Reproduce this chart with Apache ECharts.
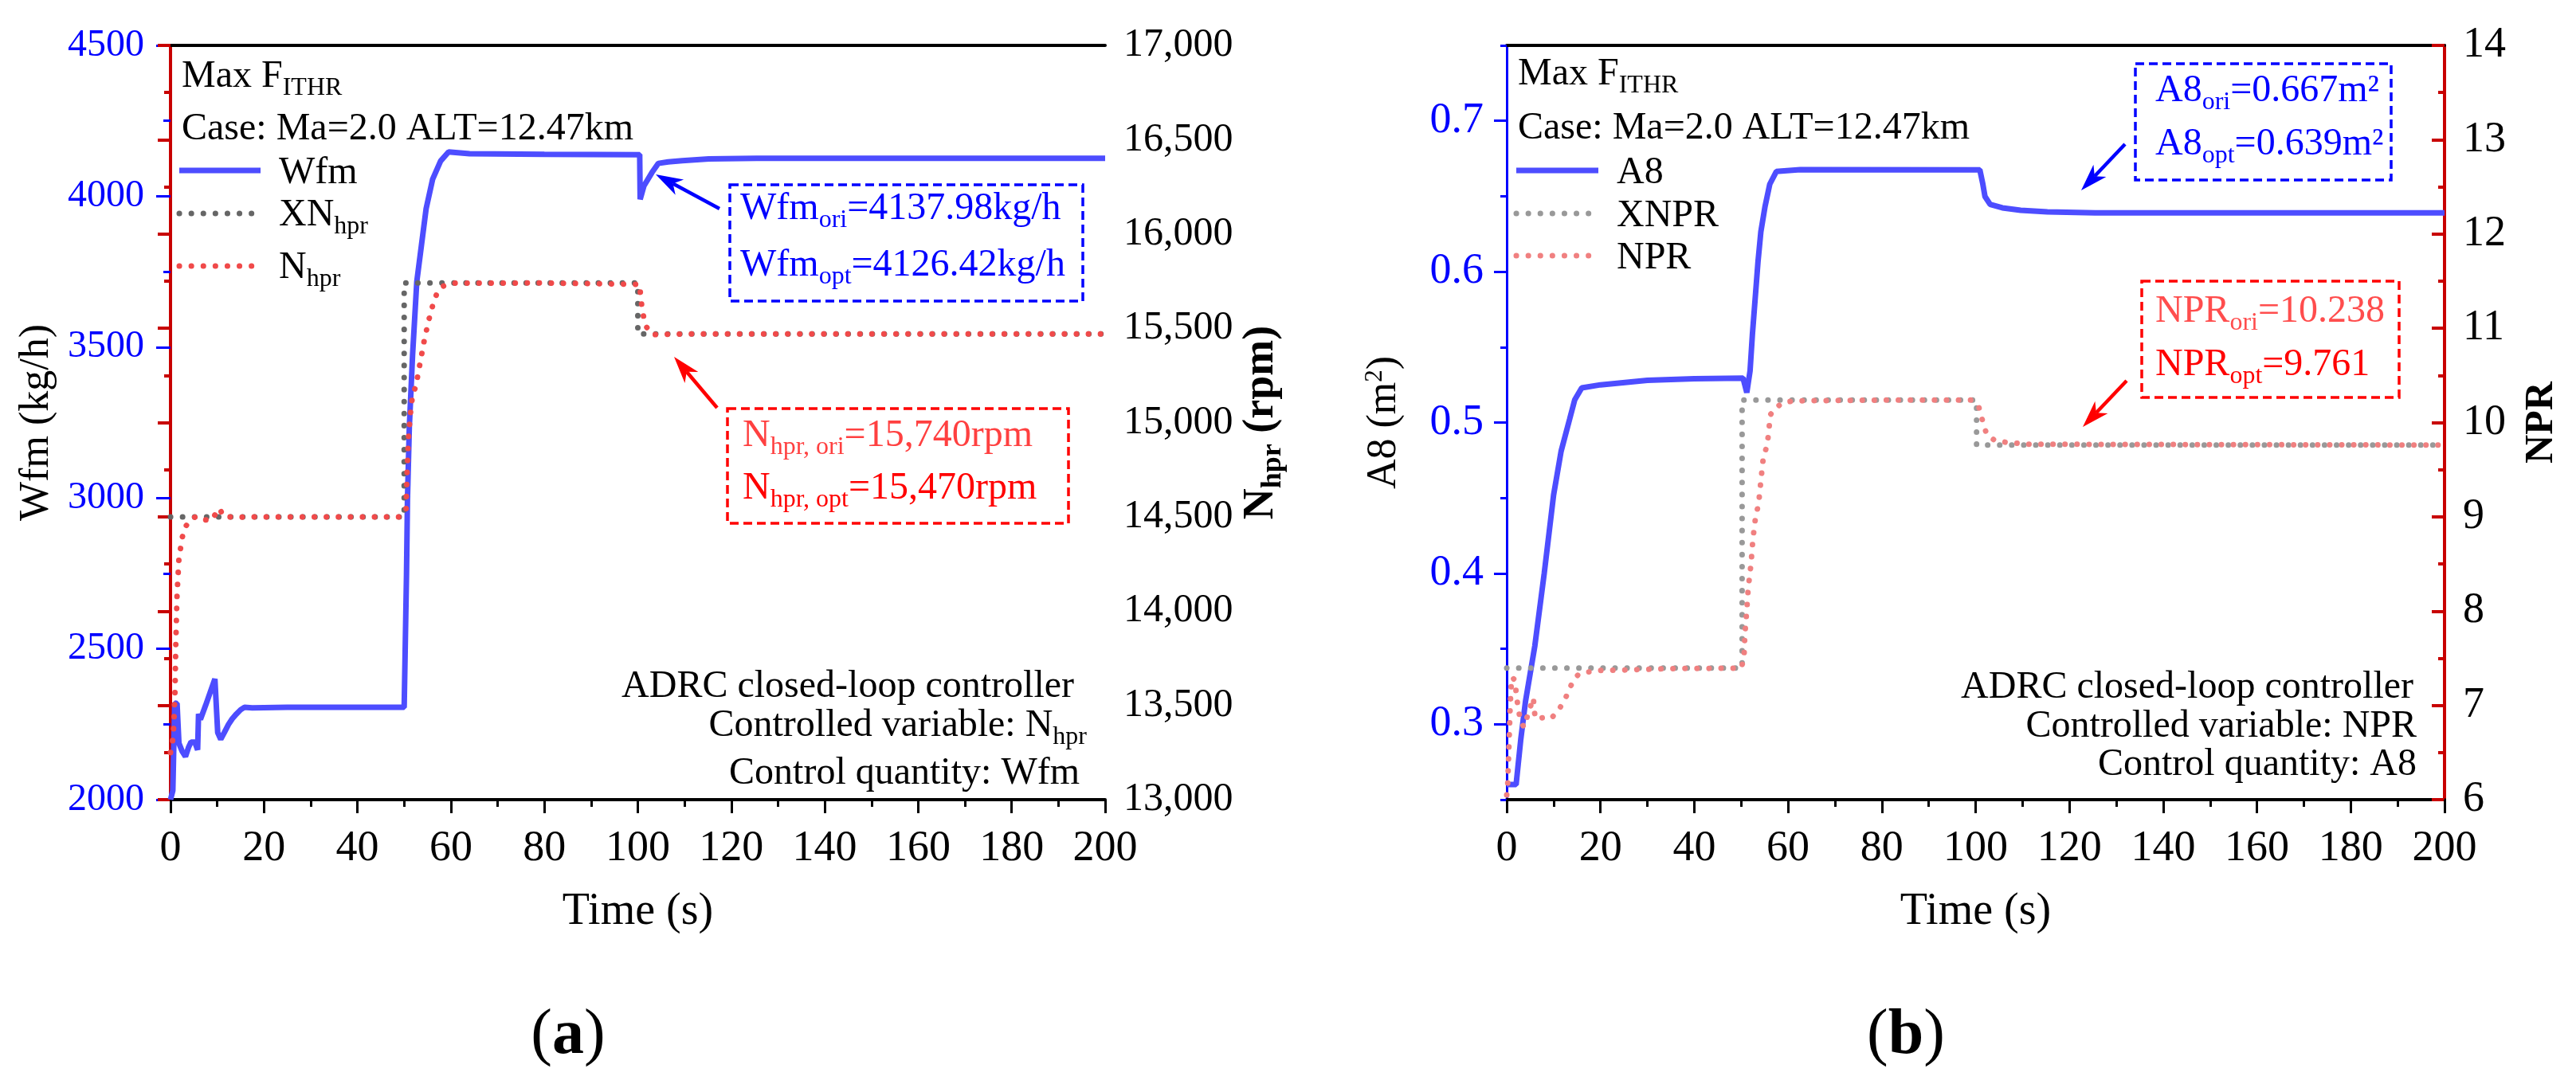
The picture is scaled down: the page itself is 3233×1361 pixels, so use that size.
<!DOCTYPE html>
<html>
<head>
<meta charset="utf-8">
<script src="https://cdn.jsdelivr.net/npm/echarts@6/dist/echarts.min.js"></script>
<style>
  html, body { margin: 0; padding: 0; background: #fff; }
  #chart { width: 3233px; height: 1361px; }
</style>
</head>
<body>
<div id="chart"></div>
<script>
// ---- data ----
// (a) fuel flow Wfm [kg/h] and high-pressure rotor speed [rpm]
const timeWfm = [0, 0.5, 0.9, 1.4, 1.8, 2.5, 3.2, 3.9, 4.4, 5.2, 5.8, 6.0, 6.4, 7.5, 8.5, 9.5, 10.1, 10.75, 11.5, 12.4, 13.2, 14.1, 15.0, 15.8, 17.5, 25, 40, 50.0, 50.1, 50.2, 50.5, 50.7, 51.1, 51.8, 52.7, 53.7, 54.7, 56.1, 57.8, 59.5, 64, 80, 100.4, 100.5, 101.3, 103.0, 104.4, 106.5, 109.5, 115.2, 125.4, 150, 200];
const wfm = [2000, 2030, 2320, 2319, 2187, 2160, 2143, 2175, 2191, 2191, 2165, 2284, 2266, 2312, 2356, 2400, 2222, 2200, 2222, 2249, 2268, 2284, 2298, 2306, 2304, 2306, 2306, 2306, 2310, 2480, 2747, 2990, 3233, 3474, 3717, 3838, 3959, 4057, 4117, 4147, 4141, 4139, 4138, 3990, 4034, 4078, 4109, 4114, 4118, 4124, 4126, 4126, 4126];

const timeXN = [0, 50, 50, 100, 100, 200];
const xnHpr = [14500, 14500, 15740, 15740, 15470, 15470];

const timeNhpr = [0, 0.4, 0.7, 0.97, 1.14, 1.4, 1.8, 2.5, 3.1, 4.2, 5.5, 6.9, 8.8, 9.8, 10.5, 11.3, 13.4, 20, 49, 50.4, 50.6, 50.9, 51.3, 51.8, 52.5, 53.4, 54.3, 55.2, 56.2, 56.9, 58.1, 60.2, 80, 100.4, 100.6, 100.9, 101.3, 101.9, 103.1, 110, 200];
const nHpr = [13250, 13300, 13390, 13580, 13833, 14087, 14277, 14390, 14443, 14485, 14502, 14485, 14481, 14523, 14545, 14502, 14498, 14500, 14500, 14533, 14718, 14912, 15039, 15145, 15193, 15315, 15436, 15537, 15630, 15678, 15721, 15739, 15740, 15733, 15671, 15607, 15553, 15505, 15466, 15470, 15470];

// (b) nozzle area A8 [m2] and nozzle pressure ratio
const timeA8 = [0, 2.0, 3.0, 4.0, 6.0, 8.0, 10.0, 11.6, 13.4, 14.5, 16, 20, 30, 40, 50.4, 51.2, 51.9, 52.4, 53.0, 53.6, 54.2, 55.1, 56.1, 57.5, 62.6, 100.9, 101.5, 102.0, 103.1, 105.7, 109.6, 115.3, 125.5, 200];
const a8 = [0.26, 0.26, 0.29, 0.315, 0.352, 0.40, 0.452, 0.481, 0.502, 0.515, 0.523, 0.525, 0.528, 0.529, 0.5295, 0.5198, 0.5343, 0.5586, 0.5828, 0.607, 0.6265, 0.6434, 0.658, 0.6664, 0.6676, 0.6675, 0.6587, 0.6498, 0.6446, 0.6423, 0.6407, 0.6396, 0.639, 0.639];

const timeXNPR = [0, 50.2, 50.2, 100.2, 100.2, 200];
const xnpr = [7.395, 7.395, 10.238, 10.238, 9.761, 9.761];

const timeNPR = [0, 0.2, 0.5, 0.75, 1.0, 1.2, 1.8, 2.0, 2.3, 2.7, 3.6, 4.25, 4.8, 5.5, 5.7, 5.8, 6.1, 7.8, 9.5, 10.3, 11.3, 12.5, 13.2, 14.2, 15.3, 17.5, 19.7, 24.8, 35, 50.0, 50.6, 50.8, 51.2, 51.5, 52.1, 52.5, 53.1, 53.7, 54.2, 54.7, 55.4, 55.8, 56.2, 57.2, 58.9, 61.2, 80, 99.0, 100.6, 101.2, 101.8, 102.4, 104.1, 106.5, 111.3, 200];
const npr = [6.05, 6.15, 6.6, 7.0, 7.25, 7.30, 7.26, 7.14, 7.02, 6.90, 6.77, 6.86, 6.95, 7.05, 7.08, 6.98, 6.86, 6.87, 6.86, 6.91, 6.97, 7.07, 7.16, 7.26, 7.33, 7.355, 7.37, 7.375, 7.39, 7.395, 7.50, 7.76, 8.01, 8.24, 8.50, 8.76, 9.01, 9.13, 9.38, 9.62, 9.74, 9.86, 10.08, 10.15, 10.21, 10.23, 10.238, 10.238, 10.18, 10.07, 9.96, 9.87, 9.81, 9.79, 9.77, 9.761];

// tick values for the A8 axis (major labelled, minor unlabelled)
const a8Ticks = [0.3, 0.4, 0.5, 0.6, 0.7];
const a8MinorTicks = [0.25, 0.35, 0.45, 0.55, 0.65, 0.75];

// ---- styling ----
const FONT = '"Liberation Serif", "DejaVu Serif", serif';
const BLUE = '#0000ff';
const LINE_BLUE = '#4d4dff';
const AXIS_RED = '#c80000';
const DOTS = [0.1, 15];

const zip = (xs, ys) => xs.map((x, i) => [x, ys[i]]);

function richStyles(color, size, subSize) {
  return {
    m: { fontSize: size, fontFamily: FONT, fill: color, color: color, lineHeight: 56 },
    s: { fontSize: subSize, fontFamily: FONT, fill: color, color: color, lineHeight: 56, padding: [30, 0, 0, 0] }
  };
}

function label(x, y, text, color, align) {
  return {
    type: 'text',
    x: x,
    y: y,
    z: 100,
    style: {
      text: text,
      align: align || 'left',
      verticalAlign: 'top',
      rich: richStyles(color || '#000', 48, 32)
    }
  };
}

function dashBox(x1, y1, x2, y2, color) {
  return {
    type: 'rect',
    z: 100,
    shape: { x: x1, y: y1, width: x2 - x1, height: y2 - y1 },
    style: { fill: 'none', stroke: color, lineWidth: 3.5, lineDash: [11, 6] }
  };
}

// tail (x1,y1) -> tip (x2,y2)
function arrow(x1, y1, x2, y2, color) {
  const dx = x2 - x1, dy = y2 - y1;
  const len = Math.hypot(dx, dy);
  const ux = dx / len, uy = dy / len;
  const hl = 34, hw = 11;
  const bx = x2 - ux * hl, by = y2 - uy * hl;
  const nx = x2 - ux * hl * 0.72, ny = y2 - uy * hl * 0.72;
  return [
    {
      type: 'line', z: 100,
      shape: { x1: x1, y1: y1, x2: nx, y2: ny },
      style: { stroke: color, lineWidth: 4.5 }
    },
    {
      type: 'polygon', z: 100,
      shape: { points: [[x2, y2], [bx - uy * hw, by + ux * hw], [nx, ny], [bx + uy * hw, by - ux * hw]] },
      style: { fill: color }
    }
  ];
}

function legendLine(x1, x2, y, color, dotted) {
  return {
    type: 'line', z: 100,
    shape: { x1: x1, y1: y, x2: x2, y2: y },
    style: dotted
      ? { stroke: color, lineWidth: 7, lineDash: DOTS, lineCap: 'round' }
      : { stroke: color, lineWidth: 7 }
  };
}

const xBase = (grid) => ({
  gridIndex: grid,
  type: 'value',
  min: 0,
  max: 200,
  interval: 20,
  axisLine: { show: true, onZero: false, lineStyle: { color: '#000', width: 4 } },
  axisTick: { show: true, length: 17, lineStyle: { color: '#000', width: 3 } },
  minorTick: { show: true, splitNumber: 2, length: 9, lineStyle: { color: '#000', width: 3 } },
  axisLabel: { color: '#000', fontSize: 54, fontFamily: FONT, margin: 35 },
  splitLine: { show: false },
  name: 'Time (s)',
  nameLocation: 'middle',
  nameGap: 113,
  nameTextStyle: { color: '#000', fontSize: 56, fontFamily: FONT, lineHeight: 56 }
});

const xTop = (grid) => ({
  gridIndex: grid,
  type: 'value',
  position: 'top',
  min: 0,
  max: 200,
  axisLine: { show: true, onZero: false, lineStyle: { color: '#000', width: 4 } },
  axisTick: { show: false },
  axisLabel: { show: false },
  splitLine: { show: false }
});

const nameRich = (size, weight) => ({
  m: { fontSize: size, fontFamily: FONT, fontWeight: weight, color: '#000', lineHeight: size },
  s: { fontSize: Math.round(size * 0.66), fontFamily: FONT, fontWeight: weight, color: '#000', lineHeight: size, padding: [28, 0, 0, 0] },
  p: { fontSize: Math.round(size * 0.6), fontFamily: FONT, fontWeight: weight, color: '#000', lineHeight: size, padding: [0, 0, 22, 0] }
});

const option = {
  animation: false,
  backgroundColor: '#fff',
  grid: [
    { left: 214, top: 57, width: 1173, height: 947 },
    { left: 1891, top: 57, width: 1177, height: 947 }
  ],
  xAxis: [xBase(0), xBase(1), xTop(0), xTop(1)],
  yAxis: [
    {
      gridIndex: 0, type: 'value', position: 'left',
      min: 2000, max: 4500, interval: 500,
      axisLine: { show: true, lineStyle: { color: BLUE, width: 3 } },
      axisTick: { show: true, length: 18, lineStyle: { color: BLUE, width: 3 } },
      minorTick: { show: true, splitNumber: 2, length: 9, lineStyle: { color: BLUE, width: 3 } },
      axisLabel: {
        color: BLUE, fontSize: 48, fontFamily: FONT, margin: 33,
        formatter: (v) => String(v)
      },
      splitLine: { show: false },
      name: 'Wfm (kg/h)', nameLocation: 'middle', nameGap: 142,
      nameTextStyle: { color: '#000', fontSize: 52, fontFamily: FONT, lineHeight: 52 }
    },
    {
      gridIndex: 0, type: 'value', position: 'right',
      min: 13000, max: 17000, interval: 500,
      axisLine: { show: true, lineStyle: { color: AXIS_RED, width: 4 } },
      axisTick: { show: true, inside: true, length: 16, lineStyle: { color: AXIS_RED, width: 4 } },
      minorTick: { show: true, splitNumber: 2, length: 8, lineStyle: { color: AXIS_RED, width: 4 } },
      axisLabel: {
        color: '#000', fontSize: 50, fontFamily: FONT, margin: 23,
        formatter: (v) => v.toLocaleString('en-US')
      },
      splitLine: { show: false },
      name: '{m|N}{s|hpr}{m| (rpm)}', nameLocation: 'middle', nameGap: 150,
      nameTextStyle: { rich: nameRich(54, 'bold') }
    },
    {
      gridIndex: 1, type: 'value', position: 'left',
      min: 0.25, max: 0.75,
      axisLine: { show: true, lineStyle: { color: BLUE, width: 3 } },
      axisTick: { show: true, length: 16, customValues: a8Ticks, lineStyle: { color: BLUE, width: 3 } },
      axisLabel: {
        color: BLUE, fontSize: 54, fontFamily: FONT, margin: 29,
        customValues: a8Ticks,
        formatter: (v) => v.toFixed(1)
      },
      splitLine: { show: false },
      name: '{m|A8 (m}{p|2}{m|)}', nameLocation: 'middle', nameGap: 128,
      nameTextStyle: { rich: nameRich(52, 'normal') }
    },
    {
      gridIndex: 1, type: 'value', position: 'left',
      min: 0.25, max: 0.75,
      axisLine: { show: false },
      axisTick: { show: true, length: 8, customValues: a8MinorTicks, lineStyle: { color: BLUE, width: 3 } },
      axisLabel: { show: false },
      splitLine: { show: false }
    },
    {
      gridIndex: 1, type: 'value', position: 'right',
      min: 6, max: 14, interval: 1,
      axisLine: { show: true, lineStyle: { color: AXIS_RED, width: 4 } },
      axisTick: { show: true, inside: true, length: 16, lineStyle: { color: AXIS_RED, width: 4 } },
      minorTick: { show: true, splitNumber: 2, length: 8, lineStyle: { color: AXIS_RED, width: 4 } },
      axisLabel: { color: '#000', fontSize: 54, fontFamily: FONT, margin: 23 },
      splitLine: { show: false },
      name: 'NPR', nameLocation: 'middle', nameGap: 97,
      nameTextStyle: { color: '#000', fontSize: 50, fontFamily: FONT, fontWeight: 'bold', lineHeight: 50 }
    }
  ],
  series: [
    {
      type: 'line', name: 'Wfm', xAxisIndex: 0, yAxisIndex: 0,
      data: zip(timeWfm, wfm), symbol: 'none', showSymbol: false,
      lineStyle: { color: LINE_BLUE, width: 7 }
    },
    {
      type: 'line', name: 'XNhpr', xAxisIndex: 0, yAxisIndex: 1,
      data: zip(timeXN, xnHpr), symbol: 'none', showSymbol: false,
      lineStyle: { color: '#666666', width: 7, type: DOTS, cap: 'round' }
    },
    {
      type: 'line', name: 'Nhpr', xAxisIndex: 0, yAxisIndex: 1,
      data: zip(timeNhpr, nHpr), symbol: 'none', showSymbol: false,
      lineStyle: { color: '#f04a4a', width: 7, type: DOTS, cap: 'round' }
    },
    {
      type: 'line', name: 'A8', xAxisIndex: 1, yAxisIndex: 2,
      data: zip(timeA8, a8), symbol: 'none', showSymbol: false,
      lineStyle: { color: LINE_BLUE, width: 7 }
    },
    {
      type: 'line', name: 'XNPR', xAxisIndex: 1, yAxisIndex: 4,
      data: zip(timeXNPR, xnpr), symbol: 'none', showSymbol: false,
      lineStyle: { color: '#999999', width: 7, type: DOTS, cap: 'round' }
    },
    {
      type: 'line', name: 'NPR', xAxisIndex: 1, yAxisIndex: 4,
      data: zip(timeNPR, npr), symbol: 'none', showSymbol: false,
      lineStyle: { color: '#f08080', width: 7, type: DOTS, cap: 'round' }
    }
  ],
  graphic: [
    // ---- panel (a) ----
    label(228, 68, '{m|Max F}{s|ITHR}'),
    label(228, 134, '{m|Case: Ma=2.0 ALT=12.47km}'),
    legendLine(225, 327, 214, LINE_BLUE, false),
    legendLine(225, 327, 268, '#666666', true),
    legendLine(225, 327, 334, '#f04a4a', true),
    label(350, 189, '{m|Wfm}'),
    label(350, 242, '{m|XN}{s|hpr}'),
    label(350, 308, '{m|N}{s|hpr}'),
    dashBox(916, 232, 1359, 378, BLUE),
    label(929, 234, '{m|Wfm}{s|ori}{m|=4137.98kg/h}', BLUE),
    label(929, 305, '{m|Wfm}{s|opt}{m|=4126.42kg/h}', BLUE),
    ...arrow(903, 262, 823, 219, BLUE),
    dashBox(913, 513, 1341, 657, '#ff0000'),
    label(932, 519, '{m|N}{s|hpr, ori}{m|=15,740rpm}', '#ff4040'),
    label(932, 585, '{m|N}{s|hpr, opt}{m|=15,470rpm}', '#ff0000'),
    ...arrow(900, 512, 846, 448, '#ff0000'),
    label(1348, 834, '{m|ADRC closed-loop controller}', '#000', 'right'),
    label(1364, 883, '{m|Controlled variable: N}{s|hpr}', '#000', 'right'),
    label(1355, 943, '{m|Control quantity: Wfm}', '#000', 'right'),
    {
      type: 'text', x: 713, y: 1301, z: 100,
      style: {
        text: '{p|(}{b|a}{p|)}', align: 'center', verticalAlign: 'middle',
        rich: {
          p: { fontSize: 80, fontFamily: FONT, fill: '#000' },
          b: { fontSize: 80, fontFamily: FONT, fontWeight: 'bold', fill: '#000' }
        }
      }
    },
    // ---- panel (b) ----
    label(1905, 65, '{m|Max F}{s|ITHR}'),
    label(1905, 133, '{m|Case: Ma=2.0 ALT=12.47km}'),
    legendLine(1903, 2006, 214, LINE_BLUE, false),
    legendLine(1903, 2006, 268, '#999999', true),
    legendLine(1903, 2006, 321, '#f08080', true),
    label(2029, 189, '{m|A8}'),
    label(2029, 243, '{m|XNPR}'),
    label(2029, 296, '{m|NPR}'),
    dashBox(2680, 80, 3001, 226, BLUE),
    label(2705, 86, '{m|A8}{s|ori}{m|=0.667m²}', BLUE),
    label(2705, 153, '{m|A8}{s|opt}{m|=0.639m²}', BLUE),
    ...arrow(2667, 181, 2612, 239, BLUE),
    dashBox(2688, 353, 3011, 499, '#ff0000'),
    label(2705, 363, '{m|NPR}{s|ori}{m|=10.238}', '#ff4d4d'),
    label(2705, 430, '{m|NPR}{s|opt}{m|=9.761}', '#ff0000'),
    ...arrow(2669, 478, 2614, 536, '#ff0000'),
    label(3029, 835, '{m|ADRC closed-loop controller}', '#000', 'right'),
    label(3033, 884, '{m|Controlled variable: NPR}', '#000', 'right'),
    label(3033, 932, '{m|Control quantity: A8}', '#000', 'right'),
    {
      type: 'text', x: 2392, y: 1301, z: 100,
      style: {
        text: '{p|(}{b|b}{p|)}', align: 'center', verticalAlign: 'middle',
        rich: {
          p: { fontSize: 80, fontFamily: FONT, fill: '#000' },
          b: { fontSize: 80, fontFamily: FONT, fontWeight: 'bold', fill: '#000' }
        }
      }
    }
  ]
};

const chart = echarts.init(document.getElementById('chart'), null, { renderer: 'canvas' });
chart.setOption(option);
window.addEventListener('resize', () => chart.resize());
</script>
</body>
</html>
